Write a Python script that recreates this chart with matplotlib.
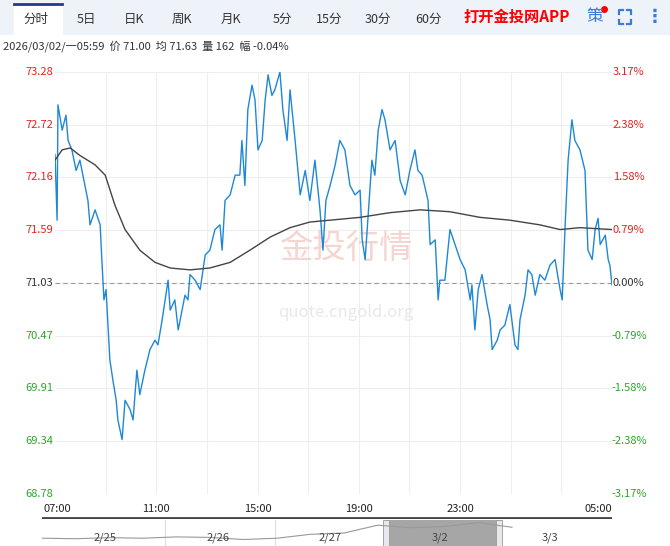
import matplotlib.pyplot as plt
import numpy as np

plt.rcParams['font.family'] = ['Noto Sans CJK SC', 'DejaVu Sans']

# minutes after 07:00
t_price = [0, 5, 7, 17, 26, 31, 40, 50, 59, 71, 78, 83, 95, 107, 111, 116, 121, 130, 137, 145, 149, 159,
           166, 178, 185, 194, 201, 213, 225, 237, 244, 254, 261, 268, 273, 284, 292, 301, 308, 315, 320,
           332, 344, 356, 367, 379, 391, 396, 403, 415, 427, 438, 443, 450, 457, 467, 474, 481, 491, 498,
           505, 514, 521, 533, 540, 550, 557, 569, 581, 593, 604, 616, 628, 635, 642, 652, 664, 675, 687,
           699, 711, 723, 728, 735, 742, 751, 758, 766, 775, 782, 794, 806, 818, 830, 841, 853, 860, 870,
           884, 889, 901, 908, 912, 924, 936, 948, 960, 972, 984, 988, 995, 1003, 1012, 1024, 1031, 1036,
           1048, 1055, 1066, 1078, 1090, 1097, 1102, 1114, 1121, 1130, 1138, 1149, 1161, 1173, 1185, 1197,
           1202, 1209, 1216, 1225, 1232, 1244, 1256, 1263, 1273, 1280, 1287, 1292, 1304, 1311, 1315, 1320]
price = [72.40, 71.70, 72.93, 72.66, 72.82, 72.55, 72.45, 72.23, 72.34, 72.07, 71.91, 71.65, 71.81, 71.65,
         71.28, 70.85, 70.96, 70.21, 70.00, 69.78, 69.57, 69.36, 69.78, 69.68, 69.57, 70.10, 69.84, 70.10,
         70.32, 70.42, 70.37, 70.64, 70.85, 71.06, 70.74, 70.85, 70.53, 70.74, 70.90, 70.85, 71.12, 71.06,
         70.96, 71.33, 71.38, 71.60, 71.65, 71.38, 71.91, 71.97, 72.18, 72.18, 72.55, 72.07, 72.88, 73.14,
         72.98, 72.45, 72.55, 72.98, 73.25, 73.03, 73.09, 73.28, 72.88, 72.55, 73.09, 72.55, 71.97, 72.23,
         71.91, 72.34, 71.81, 71.38, 71.91, 72.07, 72.29, 72.55, 72.45, 72.07, 71.97, 72.02, 71.49, 71.28,
         71.75, 72.34, 72.18, 72.66, 72.88, 72.77, 72.45, 72.55, 72.12, 71.97, 72.23, 72.45, 72.23, 72.18,
         71.91, 71.44, 71.49, 70.85, 71.06, 71.06, 71.60, 71.44, 71.28, 71.17, 70.85, 71.01, 70.53, 70.96,
         71.12, 70.80, 70.64, 70.32, 70.42, 70.53, 70.58, 70.80, 70.37, 70.32, 70.64, 70.90, 71.17, 71.12,
         70.90, 71.12, 71.06, 71.22, 71.28, 70.96, 70.85, 71.65, 72.34, 72.77, 72.55, 72.45, 72.23, 71.38,
         71.28, 71.60, 71.72, 71.44, 71.54, 71.28, 71.22, 71.01]

t_avg = [0, 17, 36, 59, 95, 119, 142, 166, 201, 237, 273, 320, 367, 415, 462, 510, 557, 604, 652, 723,
         794, 865, 936, 1007, 1078, 1149, 1197, 1244, 1320]
avg = [72.34, 72.45, 72.47, 72.39, 72.29, 72.18, 71.86, 71.60, 71.38, 71.25, 71.19, 71.17, 71.19, 71.25,
       71.38, 71.52, 71.62, 71.68, 71.70, 71.73, 71.78, 71.81, 71.79, 71.73, 71.70, 71.65, 71.60, 71.62, 71.60]

prev_close = 71.03
y_ticks = [73.28, 72.72, 72.16, 71.59, 71.03, 70.47, 69.91, 69.34, 68.78]
pct_labels = ['3.17%', '2.38%', '1.58%', '0.79%', '0.00%', '-0.79%', '-1.58%', '-2.38%', '-3.17%']
x_tick_min = [0, 240, 480, 720, 960, 1320]
x_tick_labels = ['07:00', '11:00', '15:00', '19:00', '23:00', '05:00']
tabs = ['分时', '5日', '日K', '周K', '月K', '5分', '15分', '30分', '60分']
nav_days = ['2/25', '2/26', '2/27', '3/2', '3/3']
nav_level = [0.30, 0.28, 0.32, 0.30, 0.35, 0.33, 0.25, 0.30, 0.45, 0.50, 0.80, 0.70, 0.75, 0.90, 0.72]

W, H = 670, 546
fig = plt.figure(figsize=(W / 100, H / 100), dpi=100)
fig.patch.set_facecolor('white')

def box(x0, y0, x1, y1):
    return [x0 / W, 1 - y1 / H, (x1 - x0) / W, (y1 - y0) / H]

# toolbar
tb = fig.add_axes(box(0, 0, W, 35))
tb.set_xlim(0, W); tb.set_ylim(35, 0); tb.axis('off')
tb.add_patch(plt.Rectangle((0, 0), W, 35, color='#eef3fa'))
tb.add_patch(plt.Rectangle((14, 3), 48, 32, color='white'))
tb.plot([14, 62], [4, 4], color='#1f3c88', lw=2)
tab_x = [36, 86, 134, 182, 231, 282, 329, 378, 428]
for x, s in zip(tab_x, tabs):
    tb.text(x, 19, s, ha='center', va='center', fontsize=9, color='#333333')
tb.text(517, 17, '打开金投网APP', ha='center', va='center', fontsize=11, color='#ff0000', weight='bold')
tb.text(595, 17, '策', ha='center', va='center', fontsize=12, color='#3a7bd5')
tb.plot([604], [9], 'o', color='red', ms=4)
# fullscreen icon drawn as four corner brackets
for cx, cy, dx, dy in [(619, 10, 1, 1), (631, 10, -1, 1), (619, 24, 1, -1), (631, 24, -1, -1)]:
    tb.plot([cx + 4 * dx, cx, cx], [cy, cy, cy + 4 * dy], color='#3a7bd5', lw=1.6)
tb.text(655, 17, '⋮', ha='center', va='center', fontsize=13, color='#3a7bd5', weight='bold', family='DejaVu Sans')
fig.text(3 / W, 1 - 46 / H, '2026/03/02/一05:59  价 71.00  均 71.63  量 162  幅 -0.04%',
         fontsize=8, color='#333333', va='center')

# main chart
ax = fig.add_axes(box(55, 72, 612, 494))
ax.set_xlim(0, 1320)
ax.set_ylim(68.78, 73.28)
for v in y_ticks:
    ax.axhline(v, color='#eeeeee', lw=0.8, zorder=0)
for m in range(120, 1320, 120):
    ax.axvline(m, color='#eeeeee', lw=0.8, zorder=0)
ax.axhline(prev_close, color='#999999', lw=0.8, ls=(0, (4, 3)), zorder=1)
ax.text(0.5 * 1320 + 30, 71.40, '金投行情', fontsize=24, color='#f5d5d0', ha='center', va='center', zorder=1)
ax.text(0.5 * 1320 + 30, 70.72, 'quote.cngold.org', fontsize=12, color='#e8e8e8', ha='center', va='center', zorder=1)
ax.plot(t_price, price, color='#1e88d6', lw=1.0, zorder=3)
ax.plot(t_avg, avg, color='#444444', lw=1.0, zorder=3)
for s in ax.spines.values():
    s.set_visible(False)
ax.set_xticks([]); ax.set_yticks([])
for v, p in zip(y_ticks, pct_labels):
    c = '#e8201c' if v > prev_close else ('#2aa52a' if v < prev_close else '#333333')
    ax.text(-4, v, f'{v:.2f}', color=c, fontsize=8, ha='right', va='center')
    ax.text(1320 + 2 if v >= prev_close else 1320 - 2, v, p, color=c, fontsize=8, ha='left', va='center')

# time axis
ta = fig.add_axes(box(42, 500, 612, 519))
ta.set_xlim(-13 * 1320 / 557, 1320); ta.set_ylim(19, 0); ta.axis('off')
ta.plot([-13 * 1320 / 557, 1320], [17.5, 17.5], color='#444444', lw=2)
for m, s in zip(x_tick_min, x_tick_labels):
    ha = 'right' if m == 1320 else 'center'
    ta.text(m + (0 if m else 5), 9, s, fontsize=8, ha=ha, va='center', color='#222222')

# navigator
nv = fig.add_axes(box(42, 520, 612, 546))
nv.set_xlim(42, 612); nv.set_ylim(0, 1); nv.axis('off')
nv.add_patch(plt.Rectangle((385, 0), 115, 1, color='#a6a6a6'))
nv.add_patch(plt.Rectangle((383, 0), 6, 1, facecolor='#e6e8ee', edgecolor='#999999', lw=0.6))
nv.add_patch(plt.Rectangle((496, 0), 6, 1, facecolor='#e6e8ee', edgecolor='#999999', lw=0.6))
for x in [165, 275]:
    nv.axvline(x, color='#dddddd', lw=0.8)
nx = np.linspace(42, 512, len(nav_level))
nv.plot(nx, nav_level, color='#999999', lw=0.8)
for x, s in zip([105, 218, 330, 440, 550], nav_days):
    nv.text(x, 0.3, s, fontsize=8, ha='center', va='center', color='#444444')

fig.savefig('out.png', dpi=100)
